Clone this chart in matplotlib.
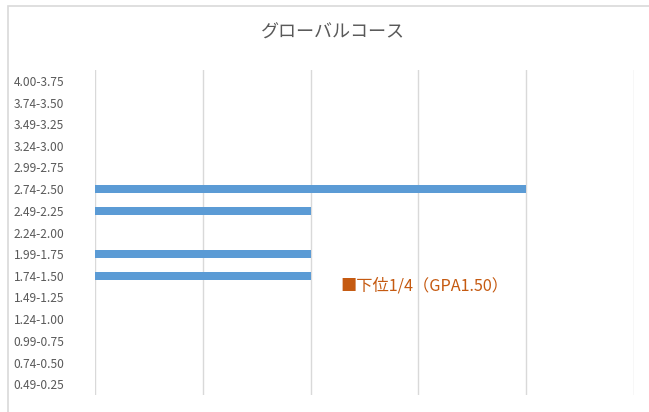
import numpy as np
from matplotlib import pyplot as plt
from matplotlib.patches import Rectangle

plt.rcParams['font.family'] = ['Noto Sans CJK JP', 'DejaVu Sans']

title = 'グローバルコース'
ranges = ['4.00-3.75', '3.74-3.50', '3.49-3.25', '3.24-3.00', '2.99-2.75',
          '2.74-2.50', '2.49-2.25', '2.24-2.00', '1.99-1.75', '1.74-1.50',
          '1.49-1.25', '1.24-1.00', '0.99-0.75', '0.74-0.50', '0.49-0.25']
counts = [0, 0, 0, 0, 0, 4, 2, 0, 2, 2, 0, 0, 0, 0, 0]
note = '■下位1/4（GPA1.50）'

fig = plt.figure(figsize=(6.49, 4.12), dpi=100)
W, H = 649, 412
ax = fig.add_axes([95 / W, 1 - 395 / H, (634 - 95) / W, (395 - 70) / H])

# chart frame
fig.patches.append(Rectangle((8 / W, -0.1), 1.2, 1 - 6 / H + 0.1, transform=fig.transFigure,
                             fill=False, edgecolor='#d9d9d9', linewidth=1.2))

y = np.arange(len(ranges))
ax.barh(y, counts, height=0.37, color='#5b9bd5', zorder=3)
ax.set_yticks(y)
ax.set_yticklabels(ranges, fontsize=8.6, color='#595959')
ax.set_ylim(len(ranges) - 0.5, -0.5)
ax.set_xlim(0, 5)
ax.set_xticks(range(6))
ax.tick_params(axis='x', labelbottom=False, length=0)
ax.tick_params(axis='y', length=0, pad=22)
ax.grid(axis='x', color='#d9d9d9', linewidth=1)
for s in ax.spines.values():
    s.set_visible(False)

ax.text(2.28, 9.45, note, fontsize=11.7, color='#c55a11', va='center', ha='left')
fig.text(333 / W, 1 - 33 / H, title, ha='center', va='center', fontsize=13, color='#595959')

fig.savefig('out.png', dpi=100)
